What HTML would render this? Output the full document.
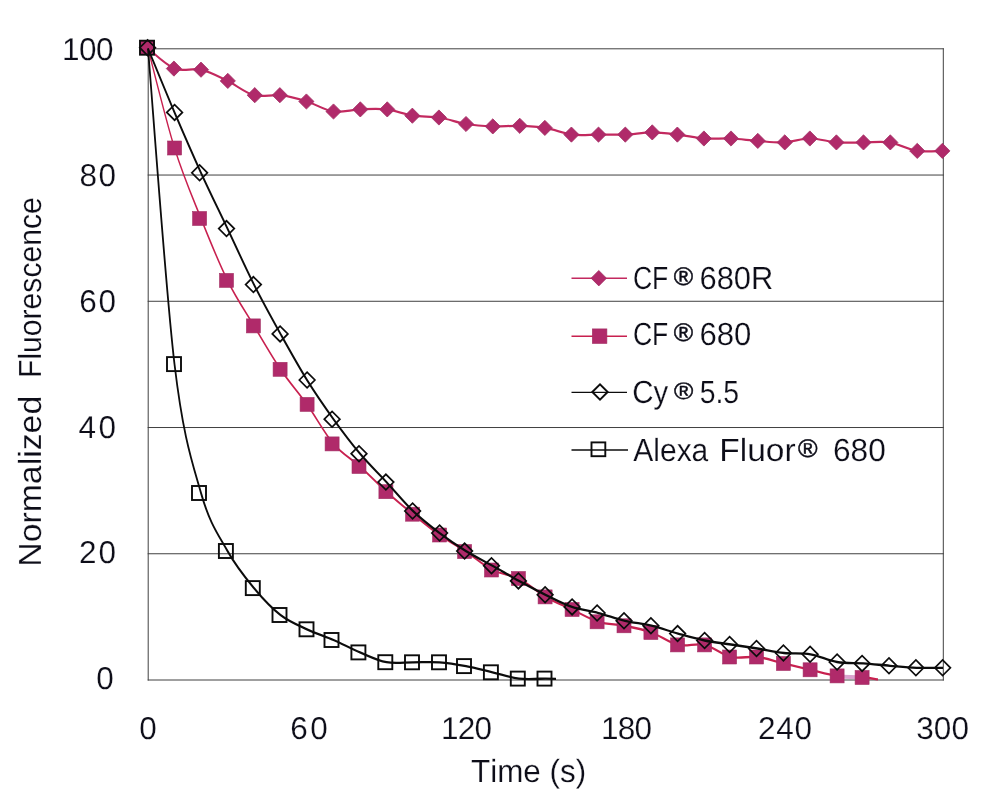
<!DOCTYPE html>
<html lang="en">
<head>
<meta charset="utf-8">
<title>Photostability: Normalized Fluorescence vs Time</title>
<style>
html,body{margin:0;padding:0;background:#ffffff;}
body{width:994px;height:795px;overflow:hidden;}
svg{display:block;}
text{font-family:"Liberation Sans",sans-serif;fill:#0d0d18;font-kerning:none;text-rendering:geometricPrecision;stroke:#ffffff;stroke-width:0.2px;}
</style>
</head>
<body>
<svg width="994" height="795" viewBox="0 0 994 795">
<rect x="0" y="0" width="994" height="795" fill="#ffffff"/>

<g stroke="#404040" stroke-width="1" fill="none">
<line x1="147.7" y1="48.80" x2="943.8" y2="48.80"/>
<line x1="147.7" y1="175.04" x2="943.8" y2="175.04"/>
<line x1="147.7" y1="301.28" x2="943.8" y2="301.28"/>
<line x1="147.7" y1="427.52" x2="943.8" y2="427.52"/>
<line x1="147.7" y1="553.76" x2="943.8" y2="553.76"/>
<line x1="147.7" y1="680.00" x2="943.8" y2="680.00"/>
<line x1="148.2" y1="48.3" x2="148.2" y2="680.5"/>
<line x1="943.3" y1="48.3" x2="943.3" y2="680.5"/>
</g>
<g>
<text x="62.10" y="59.69" font-size="31.50" letter-spacing="-0.513">100</text>
<text x="79.43" y="185.79" font-size="31.50" letter-spacing="1.662">80</text>
<text x="79.20" y="311.99" font-size="31.50" letter-spacing="1.892">60</text>
<text x="78.38" y="438.39" font-size="31.50" letter-spacing="2.716">40</text>
<text x="79.12" y="562.54" font-size="31.50" letter-spacing="1.977">20</text>
<text x="96.14" y="689.09" font-size="31.50">0</text>
</g>
<g>
<text x="139.34" y="738.64" font-size="31.50">0</text>
<text x="290.20" y="738.64" font-size="31.50" letter-spacing="2.492">60</text>
<text x="441.00" y="738.64" font-size="31.50" letter-spacing="-0.713">120</text>
<text x="601.00" y="738.64" font-size="31.50" letter-spacing="-0.713">180</text>
<text x="758.12" y="738.64" font-size="31.50" letter-spacing="0.679">240</text>
<text x="916.20" y="738.64" font-size="31.50" letter-spacing="0.137">300</text>
</g>
<text><tspan x="470.99" y="782.20" font-size="32.00" textLength="115.15" lengthAdjust="spacingAndGlyphs">Time (s)</tspan></text>
<text transform="translate(41.40,0) rotate(-90)"><tspan x="-566.77" y="0" font-size="32.00" textLength="170.95" lengthAdjust="spacingAndGlyphs">Normalized</tspan> <tspan x="-377.97" y="0" font-size="32.00" textLength="180.71" lengthAdjust="spacingAndGlyphs">Fluorescence</tspan></text>
<g transform="scale(1,1.600)"><path d="M148.00,30.31 C152.42,32.41 165.67,40.67 174.50,42.87 C183.33,45.08 192.17,42.28 201.00,43.56 C209.83,44.84 218.67,47.91 227.50,50.56 C236.33,53.22 245.17,58.01 254.00,59.50 C262.83,60.99 271.67,58.84 280.50,59.50 C289.33,60.16 298.17,61.74 307.00,63.44 C315.83,65.14 324.67,68.86 333.50,69.69 C342.33,70.51 351.17,68.59 360.00,68.38 C368.83,68.16 377.67,67.72 386.50,68.38 C395.33,69.03 404.17,71.47 413.00,72.31 C421.83,73.16 430.67,72.57 439.50,73.44 C448.33,74.30 457.17,76.57 466.00,77.50 C474.83,78.43 483.67,78.81 492.50,79.00 C501.33,79.19 510.17,78.47 519.00,78.62 C527.83,78.78 536.67,79.02 545.50,79.94 C554.33,80.85 563.17,83.43 572.00,84.12 C580.83,84.82 589.67,84.12 598.50,84.12 C607.33,84.12 616.17,84.35 625.00,84.12 C633.83,83.90 642.67,82.75 651.50,82.75 C660.33,82.75 669.17,83.49 678.00,84.12 C686.83,84.76 695.67,86.16 704.50,86.56 C713.33,86.97 722.17,86.31 731.00,86.56 C739.83,86.81 748.67,87.66 757.50,88.06 C766.33,88.47 775.17,89.25 784.00,89.00 C792.83,88.75 801.67,86.56 810.50,86.56 C819.33,86.56 828.17,88.59 837.00,89.00 C845.83,89.41 854.67,89.00 863.50,89.00 C872.33,89.00 881.17,88.11 890.00,89.00 C898.83,89.89 907.67,93.43 916.50,94.31 C925.33,95.20 938.58,94.31 943.00,94.31" fill="none" stroke="#c3295f" stroke-width="1.4" stroke-linejoin="round"/></g>
<g fill="#b02a6a" stroke="#a22f63" stroke-width="0.8">
<path d="M139.75,47.70 l7.60,-7.60 l7.60,7.60 l-7.60,7.60 z"/>
<path d="M166.30,68.60 l7.60,-7.60 l7.60,7.60 l-7.60,7.60 z"/>
<path d="M193.40,69.70 l7.60,-7.60 l7.60,7.60 l-7.60,7.60 z"/>
<path d="M220.20,80.90 l7.60,-7.60 l7.60,7.60 l-7.60,7.60 z"/>
<path d="M247.15,95.20 l7.60,-7.60 l7.60,7.60 l-7.60,7.60 z"/>
<path d="M272.25,95.20 l7.60,-7.60 l7.60,7.60 l-7.60,7.60 z"/>
<path d="M298.80,101.50 l7.60,-7.60 l7.60,7.60 l-7.60,7.60 z"/>
<path d="M325.90,111.50 l7.60,-7.60 l7.60,7.60 l-7.60,7.60 z"/>
<path d="M352.70,109.40 l7.60,-7.60 l7.60,7.60 l-7.60,7.60 z"/>
<path d="M379.65,109.40 l7.60,-7.60 l7.60,7.60 l-7.60,7.60 z"/>
<path d="M404.75,115.70 l7.60,-7.60 l7.60,7.60 l-7.60,7.60 z"/>
<path d="M431.30,117.50 l7.60,-7.60 l7.60,7.60 l-7.60,7.60 z"/>
<path d="M458.40,124.00 l7.60,-7.60 l7.60,7.60 l-7.60,7.60 z"/>
<path d="M485.20,126.40 l7.60,-7.60 l7.60,7.60 l-7.60,7.60 z"/>
<path d="M512.15,125.80 l7.60,-7.60 l7.60,7.60 l-7.60,7.60 z"/>
<path d="M537.25,127.90 l7.60,-7.60 l7.60,7.60 l-7.60,7.60 z"/>
<path d="M563.80,134.60 l7.60,-7.60 l7.60,7.60 l-7.60,7.60 z"/>
<path d="M590.90,134.60 l7.60,-7.60 l7.60,7.60 l-7.60,7.60 z"/>
<path d="M617.70,134.60 l7.60,-7.60 l7.60,7.60 l-7.60,7.60 z"/>
<path d="M644.65,132.40 l7.60,-7.60 l7.60,7.60 l-7.60,7.60 z"/>
<path d="M669.75,134.60 l7.60,-7.60 l7.60,7.60 l-7.60,7.60 z"/>
<path d="M696.30,138.50 l7.60,-7.60 l7.60,7.60 l-7.60,7.60 z"/>
<path d="M723.40,138.50 l7.60,-7.60 l7.60,7.60 l-7.60,7.60 z"/>
<path d="M750.20,140.90 l7.60,-7.60 l7.60,7.60 l-7.60,7.60 z"/>
<path d="M777.15,142.40 l7.60,-7.60 l7.60,7.60 l-7.60,7.60 z"/>
<path d="M802.25,138.50 l7.60,-7.60 l7.60,7.60 l-7.60,7.60 z"/>
<path d="M828.80,142.40 l7.60,-7.60 l7.60,7.60 l-7.60,7.60 z"/>
<path d="M855.90,142.40 l7.60,-7.60 l7.60,7.60 l-7.60,7.60 z"/>
<path d="M882.70,142.40 l7.60,-7.60 l7.60,7.60 l-7.60,7.60 z"/>
<path d="M909.65,150.90 l7.60,-7.60 l7.60,7.60 l-7.60,7.60 z"/>
<path d="M934.75,150.90 l7.60,-7.60 l7.60,7.60 l-7.60,7.60 z"/>
</g>
<g transform="scale(1,1.700)"><path d="M148.00,28.53 C152.42,38.28 165.67,70.39 174.50,87.06 C183.33,103.73 192.17,115.55 201.00,128.53 C209.83,141.51 218.67,154.41 227.50,164.94 C236.33,175.47 245.17,182.99 254.00,191.71 C262.83,200.42 271.67,209.54 280.50,217.24 C289.33,224.93 298.17,230.57 307.00,237.88 C315.83,245.20 324.67,255.03 333.50,261.12 C342.33,267.21 351.17,269.73 360.00,274.41 C368.83,279.10 377.67,284.56 386.50,289.24 C395.33,293.91 404.17,298.23 413.00,302.47 C421.83,306.72 430.67,311.04 439.50,314.71 C448.33,318.37 457.17,321.04 466.00,324.47 C474.83,327.90 483.67,332.66 492.50,335.29 C501.33,337.93 510.17,337.66 519.00,340.29 C527.83,342.93 536.67,348.08 545.50,351.12 C554.33,354.16 563.17,356.09 572.00,358.53 C580.83,360.97 589.67,364.17 598.50,365.76 C607.33,367.36 616.17,367.07 625.00,368.12 C633.83,369.17 642.67,370.19 651.50,372.06 C660.33,373.93 669.17,378.14 678.00,379.35 C686.83,380.57 695.67,378.17 704.50,379.35 C713.33,380.54 722.17,385.28 731.00,386.47 C739.83,387.66 748.67,385.83 757.50,386.47 C766.33,387.11 775.17,389.04 784.00,390.29 C792.83,391.55 801.67,392.78 810.50,394.00 C819.33,395.22 828.17,396.83 837.00,397.59 C845.83,398.34 856.67,398.19 863.50,398.53 C870.33,398.87 875.58,399.46 878.00,399.65" fill="none" stroke="#c8204f" stroke-width="1.35" stroke-linejoin="round"/></g>
<line x1="837.0" y1="676.6" x2="863.5" y2="677.6" stroke="#dba3cf" stroke-width="4"/>
<g fill="#b02a6a" stroke="#a22f63" stroke-width="0.6">
<rect x="140.60" y="40.70" width="14.00" height="14.00"/>
<rect x="167.60" y="141.00" width="14.00" height="14.00"/>
<rect x="192.60" y="211.50" width="14.00" height="14.00"/>
<rect x="219.50" y="273.40" width="14.00" height="14.00"/>
<rect x="246.40" y="318.90" width="14.00" height="14.00"/>
<rect x="273.10" y="362.30" width="14.00" height="14.00"/>
<rect x="300.10" y="397.40" width="14.00" height="14.00"/>
<rect x="325.10" y="436.90" width="14.00" height="14.00"/>
<rect x="352.00" y="459.50" width="14.00" height="14.00"/>
<rect x="378.90" y="484.70" width="14.00" height="14.00"/>
<rect x="405.60" y="507.20" width="14.00" height="14.00"/>
<rect x="432.60" y="528.00" width="14.00" height="14.00"/>
<rect x="457.60" y="544.60" width="14.00" height="14.00"/>
<rect x="484.50" y="563.00" width="14.00" height="14.00"/>
<rect x="511.40" y="571.50" width="14.00" height="14.00"/>
<rect x="538.10" y="589.90" width="14.00" height="14.00"/>
<rect x="565.10" y="602.50" width="14.00" height="14.00"/>
<rect x="590.10" y="614.80" width="14.00" height="14.00"/>
<rect x="617.00" y="618.80" width="14.00" height="14.00"/>
<rect x="643.90" y="625.50" width="14.00" height="14.00"/>
<rect x="670.60" y="637.90" width="14.00" height="14.00"/>
<rect x="697.60" y="637.90" width="14.00" height="14.00"/>
<rect x="722.60" y="650.00" width="14.00" height="14.00"/>
<rect x="749.50" y="650.00" width="14.00" height="14.00"/>
<rect x="776.40" y="656.50" width="14.00" height="14.00"/>
<rect x="803.10" y="662.80" width="14.00" height="14.00"/>
<rect x="830.10" y="668.90" width="14.00" height="14.00"/>
<rect x="855.10" y="670.50" width="14.00" height="14.00"/>
</g>
<g transform="scale(1,1.280)"><path d="M148.00,37.89 C152.42,46.21 165.67,71.63 174.50,87.81 C183.33,104.00 192.17,119.87 201.00,135.00 C209.83,150.13 218.67,164.04 227.50,178.59 C236.33,193.15 245.17,208.63 254.00,222.34 C262.83,236.05 271.67,248.44 280.50,260.86 C289.33,273.28 298.17,285.77 307.00,296.88 C315.83,307.98 324.67,317.90 333.50,327.50 C342.33,337.10 351.17,346.26 360.00,354.45 C368.83,362.64 377.67,369.18 386.50,376.64 C395.33,384.10 404.17,392.59 413.00,399.22 C421.83,405.85 430.67,411.18 439.50,416.41 C448.33,421.63 457.17,426.29 466.00,430.55 C474.83,434.80 483.67,438.07 492.50,441.95 C501.33,445.83 510.17,450.04 519.00,453.83 C527.83,457.62 536.67,461.30 545.50,464.69 C554.33,468.07 563.17,471.77 572.00,474.14 C580.83,476.51 589.67,477.10 598.50,478.91 C607.33,480.72 616.17,483.35 625.00,485.00 C633.83,486.65 642.67,487.16 651.50,488.83 C660.33,490.49 669.17,493.07 678.00,495.00 C686.83,496.93 695.67,498.97 704.50,500.39 C713.33,501.81 722.17,502.47 731.00,503.52 C739.83,504.56 748.67,505.53 757.50,506.64 C766.33,507.75 775.17,509.40 784.00,510.16 C792.83,510.91 801.67,510.00 810.50,511.17 C819.33,512.34 828.17,516.00 837.00,517.19 C845.83,518.37 854.67,517.79 863.50,518.28 C872.33,518.78 881.17,519.58 890.00,520.16 C898.83,520.73 907.67,521.46 916.50,521.72 C925.33,521.98 938.58,521.72 943.00,521.72" fill="none" stroke="#0c0c0c" stroke-width="1.8" stroke-linejoin="round"/></g>
<g fill="none" stroke="#0c0c0c" stroke-width="1.7">
<path d="M139.80,47.70 l7.80,-7.80 l7.80,7.80 l-7.80,7.80 z"/>
<path d="M166.80,112.40 l7.80,-7.80 l7.80,7.80 l-7.80,7.80 z"/>
<path d="M191.80,172.80 l7.80,-7.80 l7.80,7.80 l-7.80,7.80 z"/>
<path d="M218.70,228.60 l7.80,-7.80 l7.80,7.80 l-7.80,7.80 z"/>
<path d="M245.60,284.60 l7.80,-7.80 l7.80,7.80 l-7.80,7.80 z"/>
<path d="M272.30,333.90 l7.80,-7.80 l7.80,7.80 l-7.80,7.80 z"/>
<path d="M299.30,380.00 l7.80,-7.80 l7.80,7.80 l-7.80,7.80 z"/>
<path d="M324.30,419.20 l7.80,-7.80 l7.80,7.80 l-7.80,7.80 z"/>
<path d="M351.20,453.70 l7.80,-7.80 l7.80,7.80 l-7.80,7.80 z"/>
<path d="M378.10,482.10 l7.80,-7.80 l7.80,7.80 l-7.80,7.80 z"/>
<path d="M404.80,511.00 l7.80,-7.80 l7.80,7.80 l-7.80,7.80 z"/>
<path d="M431.80,533.00 l7.80,-7.80 l7.80,7.80 l-7.80,7.80 z"/>
<path d="M456.80,551.10 l7.80,-7.80 l7.80,7.80 l-7.80,7.80 z"/>
<path d="M483.70,565.70 l7.80,-7.80 l7.80,7.80 l-7.80,7.80 z"/>
<path d="M510.60,580.90 l7.80,-7.80 l7.80,7.80 l-7.80,7.80 z"/>
<path d="M537.30,594.80 l7.80,-7.80 l7.80,7.80 l-7.80,7.80 z"/>
<path d="M564.30,606.90 l7.80,-7.80 l7.80,7.80 l-7.80,7.80 z"/>
<path d="M589.30,613.00 l7.80,-7.80 l7.80,7.80 l-7.80,7.80 z"/>
<path d="M616.20,620.80 l7.80,-7.80 l7.80,7.80 l-7.80,7.80 z"/>
<path d="M643.10,625.70 l7.80,-7.80 l7.80,7.80 l-7.80,7.80 z"/>
<path d="M669.80,633.60 l7.80,-7.80 l7.80,7.80 l-7.80,7.80 z"/>
<path d="M696.80,640.50 l7.80,-7.80 l7.80,7.80 l-7.80,7.80 z"/>
<path d="M721.80,644.50 l7.80,-7.80 l7.80,7.80 l-7.80,7.80 z"/>
<path d="M748.70,648.50 l7.80,-7.80 l7.80,7.80 l-7.80,7.80 z"/>
<path d="M775.60,653.00 l7.80,-7.80 l7.80,7.80 l-7.80,7.80 z"/>
<path d="M802.30,654.30 l7.80,-7.80 l7.80,7.80 l-7.80,7.80 z"/>
<path d="M829.30,662.00 l7.80,-7.80 l7.80,7.80 l-7.80,7.80 z"/>
<path d="M854.30,663.40 l7.80,-7.80 l7.80,7.80 l-7.80,7.80 z"/>
<path d="M881.20,665.80 l7.80,-7.80 l7.80,7.80 l-7.80,7.80 z"/>
<path d="M908.10,667.80 l7.80,-7.80 l7.80,7.80 l-7.80,7.80 z"/>
<path d="M934.80,667.80 l7.80,-7.80 l7.80,7.80 l-7.80,7.80 z"/>
</g>
<g transform="scale(1,1.280)"><path d="M148.00,37.89 C152.42,78.98 165.67,226.58 174.50,284.45 C183.33,342.33 192.17,360.82 201.00,385.16 C209.83,409.49 218.67,418.09 227.50,430.47 C236.33,442.85 245.17,451.12 254.00,459.45 C262.83,467.79 271.67,475.10 280.50,480.47 C289.33,485.83 298.17,488.39 307.00,491.64 C315.83,494.90 324.67,496.99 333.50,500.00 C342.33,503.01 351.17,506.80 360.00,509.69 C368.83,512.58 377.67,516.05 386.50,517.34 C395.33,518.63 404.17,517.41 413.00,517.42 C421.83,517.43 430.67,516.93 439.50,517.42 C448.33,517.92 457.17,519.09 466.00,520.39 C474.83,521.69 483.67,523.61 492.50,525.23 C501.33,526.86 510.17,529.34 519.00,530.16 C527.83,530.98 541.08,530.16 545.50,530.16 L556,530.31" fill="none" stroke="#0c0c0c" stroke-width="1.8" stroke-linejoin="round"/></g>
<g fill="none" stroke="#0c0c0c" stroke-width="1.9">
<rect x="140.00" y="40.70" width="14.00" height="14.00"/>
<rect x="167.00" y="357.10" width="14.00" height="14.00"/>
<rect x="192.00" y="486.00" width="14.00" height="14.00"/>
<rect x="218.90" y="544.00" width="14.00" height="14.00"/>
<rect x="245.80" y="581.10" width="14.00" height="14.00"/>
<rect x="272.50" y="608.00" width="14.00" height="14.00"/>
<rect x="299.50" y="622.30" width="14.00" height="14.00"/>
<rect x="324.50" y="633.00" width="14.00" height="14.00"/>
<rect x="351.40" y="645.40" width="14.00" height="14.00"/>
<rect x="378.30" y="655.20" width="14.00" height="14.00"/>
<rect x="405.00" y="655.30" width="14.00" height="14.00"/>
<rect x="432.00" y="655.30" width="14.00" height="14.00"/>
<rect x="457.00" y="659.10" width="14.00" height="14.00"/>
<rect x="483.90" y="665.30" width="14.00" height="14.00"/>
<rect x="510.80" y="671.60" width="14.00" height="14.00"/>
<rect x="537.50" y="671.60" width="14.00" height="14.00"/>
</g>
<line x1="571.5" y1="278.2" x2="627.0" y2="278.2" stroke="#c3295f" stroke-width="1.4"/>
<g fill="#b02a6a" stroke="#a22f63" stroke-width="0.8"><path d="M591.10,278.20 l7.70,-7.70 l7.70,7.70 l-7.70,7.70 z"/></g>
<line x1="571.5" y1="336.2" x2="627.0" y2="336.2" stroke="#c8204f" stroke-width="1.4"/>
<g fill="#b02a6a" stroke="#a22f63" stroke-width="0.6"><rect x="592.30" y="328.90" width="14.60" height="14.60"/></g>
<line x1="571.5" y1="392.4" x2="627.0" y2="392.4" stroke="#0c0c0c" stroke-width="1.4"/>
<g fill="none" stroke="#0c0c0c" stroke-width="1.9"><path d="M592.30,392.00 l7.70,-7.70 l7.70,7.70 l-7.70,7.70 z"/></g>
<line x1="571.5" y1="450.0" x2="628.0" y2="450.0" stroke="#0c0c0c" stroke-width="1.4"/>
<g fill="none" stroke="#0c0c0c" stroke-width="1.9"><rect x="591.50" y="442.40" width="13.80" height="13.80"/></g>
<text><tspan x="632.95" y="289.40" font-size="32.00" textLength="35.41" lengthAdjust="spacingAndGlyphs">CF</tspan><tspan x="673.80" y="285.20" font-size="25.49" textLength="19.41" lengthAdjust="spacingAndGlyphs" style="stroke:#0d0d18;stroke-width:0.45px">®</tspan><tspan x="699.53" y="289.40" font-size="32.00" textLength="73.80" lengthAdjust="spacingAndGlyphs">680R</tspan></text>
<text><tspan x="632.95" y="344.90" font-size="32.00" textLength="35.41" lengthAdjust="spacingAndGlyphs">CF</tspan><tspan x="673.80" y="340.60" font-size="25.49" textLength="19.41" lengthAdjust="spacingAndGlyphs" style="stroke:#0d0d18;stroke-width:0.45px">®</tspan><tspan x="699.52" y="344.90" font-size="32.00" textLength="51.89" lengthAdjust="spacingAndGlyphs">680</tspan></text>
<text><tspan x="632.31" y="403.10" font-size="32.00" textLength="35.95" lengthAdjust="spacingAndGlyphs">Cy</tspan><tspan x="673.90" y="399.01" font-size="23.79" textLength="19.31" lengthAdjust="spacingAndGlyphs" style="stroke:#0d0d18;stroke-width:0.45px">®</tspan><tspan x="699.66" y="403.10" font-size="32.00" textLength="39.43" lengthAdjust="spacingAndGlyphs">5.5</tspan></text>
<text><tspan x="633.34" y="461.20" font-size="32.00" textLength="74.96" lengthAdjust="spacingAndGlyphs">Alexa</tspan> <tspan x="719.25" y="461.20" font-size="32.00" textLength="76.41" lengthAdjust="spacingAndGlyphs">Fluor</tspan><tspan x="798.00" y="456.90" font-size="25.35" textLength="19.62" lengthAdjust="spacingAndGlyphs" style="stroke:#0d0d18;stroke-width:0.45px">®</tspan> <tspan x="832.99" y="461.20" font-size="32.00" textLength="52.74" lengthAdjust="spacingAndGlyphs">680</tspan></text>
</svg>
</body>
</html>
